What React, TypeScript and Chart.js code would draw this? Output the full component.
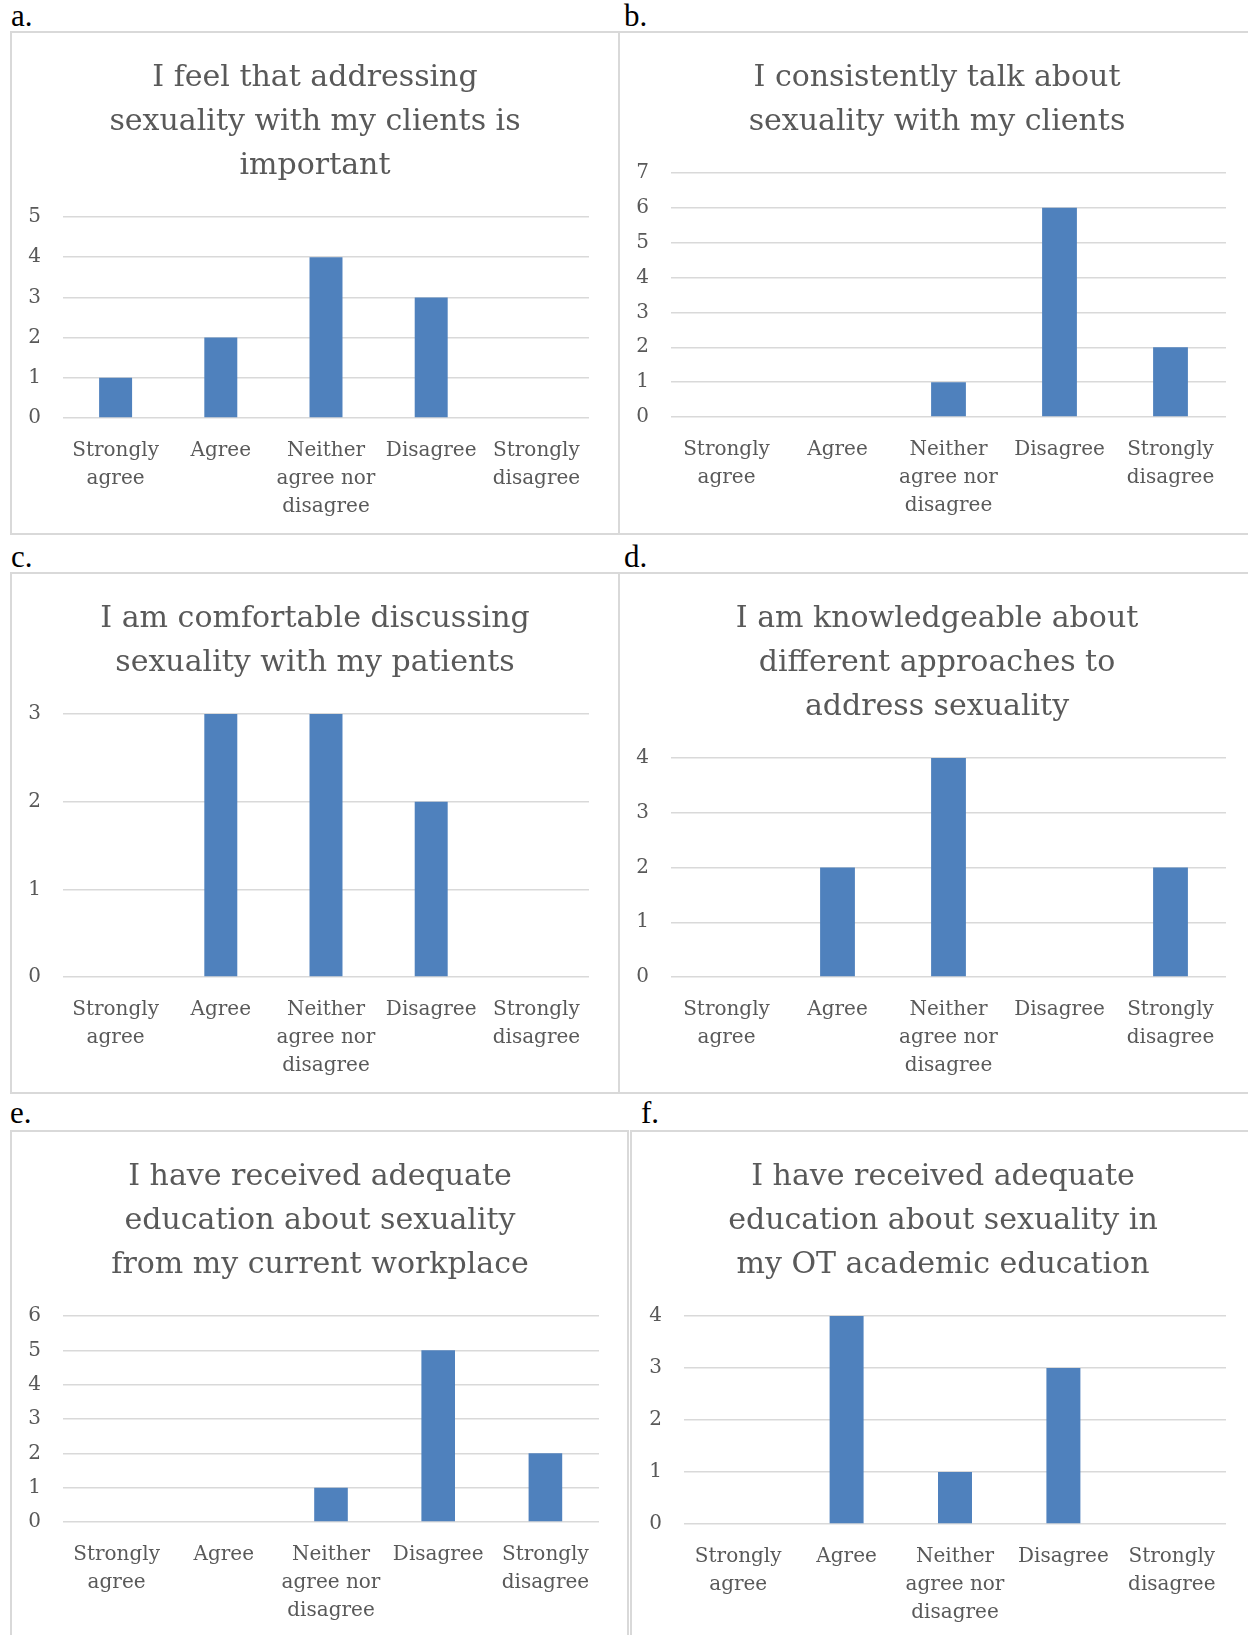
import React, { useEffect, useRef } from "react";
import { Chart, registerables } from "chart.js";

Chart.register(...registerables);

// ---------- data ----------
const categories: string[][] = [
  ["Strongly", "agree"],
  ["Agree"],
  ["Neither", "agree nor", "disagree"],
  ["Disagree"],
  ["Strongly", "disagree"],
];

const titleA = ["I feel that addressing", "sexuality with my clients is", "important"];
const titleB = ["I consistently talk about", "sexuality with my clients"];
const titleC = ["I am comfortable discussing", "sexuality with my patients"];
const titleD = ["I am knowledgeable about", "different approaches to", "address sexuality"];
const titleE = ["I have received adequate", "education about sexuality", "from my current workplace"];
const titleF = ["I have received adequate", "education about sexuality in", "my OT academic education"];

const valuesA = [1, 2, 4, 3, 0];
const valuesB = [0, 0, 1, 6, 2];
const valuesC = [0, 3, 3, 2, 0];
const valuesD = [0, 2, 4, 0, 2];
const valuesE = [0, 0, 1, 5, 2];
const valuesF = [0, 4, 1, 3, 0];

const yMaxA = 5;
const yMaxB = 7;
const yMaxC = 3;
const yMaxD = 4;
const yMaxE = 6;
const yMaxF = 4;

const panelLetters = ["a.", "b.", "c.", "d.", "e.", "f."];

// ---------- styling / layout ----------
const BAR_COLOR = "#4F81BD";
const TEXT_COLOR = "#595959";
const GRID_COLOR = "#d9d9d9";
const FONT = "'DejaVu Serif', serif";

type Layout = {
  box: [number, number, number, number];
  canvas: [number, number, number, number];
  padL: number;
  padR: number;
  yW: number;
  xH: number;
  letter: [number, number];
};

const layouts: Layout[] = [
  { box: [10, 31, 610, 504], canvas: [12, 33, 606, 500], padL: 29, padR: 29, yW: 22, xH: 115, letter: [11, 0] },
  { box: [618, 31, 638, 504], canvas: [620, 33, 634, 500], padL: 28, padR: 28, yW: 23, xH: 116, letter: [624, 0] },
  { box: [10, 572, 610, 522], canvas: [12, 574, 606, 518], padL: 29, padR: 29, yW: 22, xH: 115, letter: [11, 541] },
  { box: [618, 572, 638, 522], canvas: [620, 574, 634, 518], padL: 28, padR: 28, yW: 23, xH: 115, letter: [624, 541] },
  { box: [10, 1130, 619, 510], canvas: [12, 1132, 615, 506], padL: 29, padR: 28, yW: 22, xH: 116, letter: [10, 1097] },
  { box: [630, 1130, 626, 510], canvas: [632, 1132, 622, 506], padL: 28, padR: 28, yW: 24, xH: 114, letter: [641, 1097] },
];

const panels = [
  { title: titleA, values: valuesA, yMax: yMaxA },
  { title: titleB, values: valuesB, yMax: yMaxB },
  { title: titleC, values: valuesC, yMax: yMaxC },
  { title: titleD, values: valuesD, yMax: yMaxD },
  { title: titleE, values: valuesE, yMax: yMaxE },
  { title: titleF, values: valuesF, yMax: yMaxF },
];

function BarPanel({ idx }: { idx: number }) {
  const ref = useRef<HTMLCanvasElement>(null);
  const p = panels[idx];
  const L = layouts[idx];
  const [cl, ct, cw, ch] = L.canvas;

  useEffect(() => {
    if (!ref.current) return;
    const chart = new Chart(ref.current, {
      type: "bar",
      data: {
        labels: categories,
        datasets: [
          {
            data: p.values,
            backgroundColor: BAR_COLOR,
            borderWidth: 0,
            categoryPercentage: 1,
            barPercentage: 0.3135,
          },
        ],
      },
      options: {
        animation: false,
        responsive: false,
        events: [],
        layout: { padding: { left: L.padL, right: L.padR, top: 0, bottom: 0 } },
        plugins: {
          legend: { display: false },
          tooltip: { enabled: false },
          title: {
            display: true,
            text: p.title,
            color: TEXT_COLOR,
            font: { family: FONT, size: 30, weight: "normal", lineHeight: 44 / 30 },
            padding: { top: 23, bottom: 29 },
          },
        },
        scales: {
          x: {
            grid: { display: false, drawTicks: false },
            border: { display: false },
            ticks: {
              color: TEXT_COLOR,
              font: { family: FONT, size: 20, lineHeight: 1.4 },
              padding: 19,
              maxRotation: 0,
              minRotation: 0,
              autoSkip: false,
            },
            afterFit: (s: any) => {
              s.height = L.xH;
            },
          },
          y: {
            min: 0,
            max: p.yMax,
            grid: { color: GRID_COLOR, lineWidth: 1.5, drawTicks: false },
            border: { display: false },
            ticks: {
              stepSize: 1,
              mirror: true,
              crossAlign: "near",
              padding: -34.7,
              color: TEXT_COLOR,
              font: { family: FONT, size: 20 },
            },
            afterFit: (s: any) => {
              s.width = L.yW;
            },
          },
        },
      } as any,
    });
    return () => chart.destroy();
  }, []);

  return (
    <canvas
      ref={ref}
      width={cw}
      height={ch}
      style={{ position: "absolute", left: cl, top: ct, width: cw, height: ch }}
    />
  );
}

export default function App() {
  return (
    <div
      style={{
        position: "absolute",
        left: 0,
        top: 0,
        width: 1248,
        height: 1635,
        overflow: "hidden",
        background: "#ffffff",
      }}
    >
      {layouts.map((L, i) => (
        <div
          key={"box" + i}
          style={{
            position: "absolute",
            left: L.box[0],
            top: L.box[1],
            width: L.box[2],
            height: L.box[3],
            border: `2px solid ${GRID_COLOR}`,
            boxSizing: "border-box",
          }}
        />
      ))}
      {layouts.map((L, i) => (
        <div
          key={"letter" + i}
          style={{
            position: "absolute",
            left: L.letter[0],
            top: L.letter[1],
            fontFamily: "'Liberation Serif', 'Times New Roman', serif",
            fontSize: 31,
            lineHeight: "31px",
            color: "#000",
            whiteSpace: "nowrap",
          }}
        >
          {panelLetters[i]}
        </div>
      ))}
      {panels.map((_, i) => (
        <BarPanel key={"panel" + i} idx={i} />
      ))}
    </div>
  );
}
